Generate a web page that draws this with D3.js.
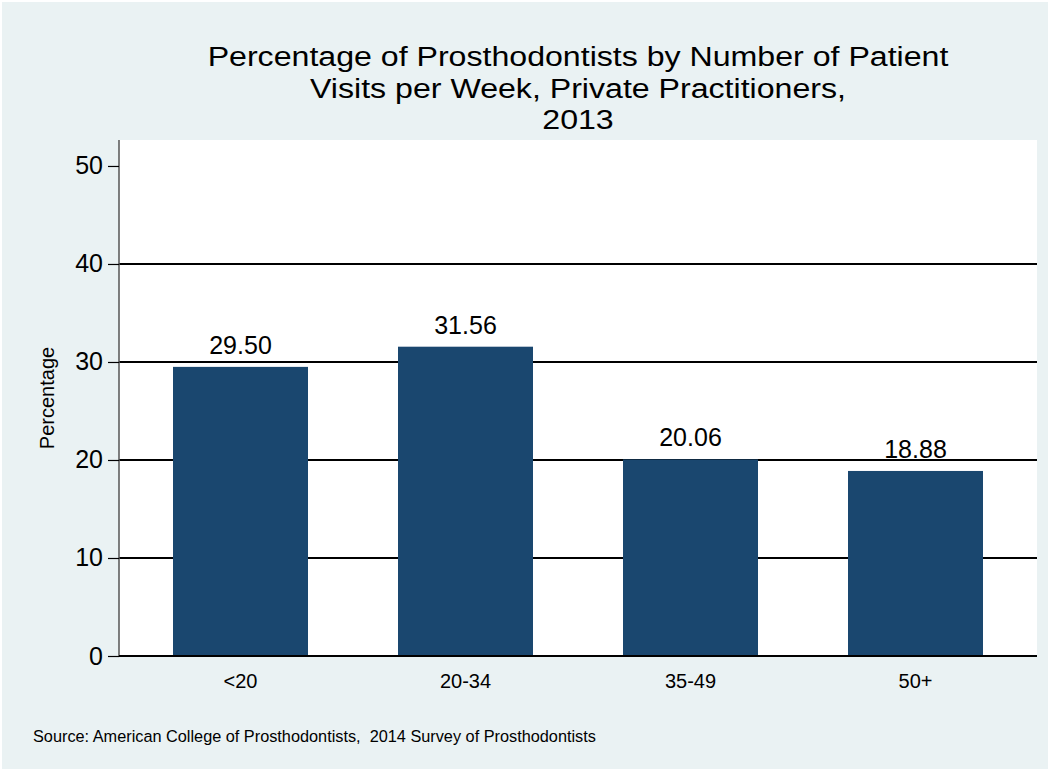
<!DOCTYPE html>
<html>
<head>
<meta charset="utf-8">
<script src="https://cdn.jsdelivr.net/npm/d3@7"></script>
<style>
  body { margin: 0; background: #fff; }
  text { font-family: "Liberation Sans", Arial, sans-serif; fill: #000; }
</style>
</head>
<body>
<script>
let width = 1050, height = 769

let categories = ['<20', '20-34', '35-49', '50+']
let values = [29.50, 31.56, 20.06, 18.88]
let yTicks = [0, 10, 20, 30, 40, 50]
let gridTicks = [10, 20, 30, 40]
let titleLines = ['Percentage of Prosthodontists by Number of Patient', 'Visits per Week, Private Practitioners,', '2013']

let plot = {left: 119, right: 1037, top: 140, bottom: 656}

let svg = d3.select('body').append('svg')
    .attr('width', width)
    .attr('height', height)

// outer background
svg.append('rect')
    .attr('x', 2).attr('y', 2)
    .attr('width', width - 4).attr('height', height - 2)
    .attr('fill', '#eaf2f3')

svg.append('rect')
    .attr('x', plot.left).attr('y', plot.top)
    .attr('width', plot.right - plot.left).attr('height', plot.bottom - plot.top)
    .attr('fill', '#fff')

let x = d3.scaleBand()
    .domain(categories)
    .range([plot.left, plot.right])
    .paddingInner(0.4)
    .paddingOuter(0.24)

let y = d3.scaleLinear()
    .domain([0, 52.65])
    .range([plot.bottom, plot.top])

// grid lines
svg.append('g').selectAll('line')
    .data(gridTicks)
    .enter().append('line')
    .attr('x1', plot.left).attr('x2', plot.right)
    .attr('y1', d => y(d)).attr('y2', d => y(d))
    .attr('stroke', '#000')
    .attr('stroke-width', 2)

// bars
svg.append('g').selectAll('rect')
    .data(values)
    .enter().append('rect')
    .attr('x', (d, i) => x(categories[i]))
    .attr('y', d => y(d))
    .attr('width', x.bandwidth())
    .attr('height', d => y(0) - y(d))
    .attr('fill', '#1a476f')

// value labels
svg.append('g').selectAll('text')
    .data(values)
    .enter().append('text')
    .attr('x', (d, i) => x(categories[i]) + x.bandwidth() / 2)
    .attr('y', d => y(d) - 13)
    .attr('text-anchor', 'middle')
    .style('font-size', '25px')
    .text(d => d.toFixed(2))

// y axis
let yAxis = svg.append('g')
    .attr('transform', `translate(${plot.left},0)`)
    .call(d3.axisLeft(y).tickValues(yTicks).tickSize(11).tickPadding(5).tickFormat(d3.format('d')))
yAxis.select('.domain')
    .attr('d', `M0,${plot.top}V${plot.bottom}`)
    .attr('stroke', '#555')
    .attr('stroke-width', 1.5)
yAxis.selectAll('.tick line').attr('stroke', '#000').attr('stroke-width', 1.2)
yAxis.selectAll('.tick text')
    .style('font-size', '25px')
    .style('font-family', '"Liberation Sans", Arial, sans-serif')
    .attr('fill', '#000')

// x axis baseline
svg.append('line')
    .attr('x1', plot.left).attr('x2', plot.right)
    .attr('y1', plot.bottom).attr('y2', plot.bottom)
    .attr('stroke', '#000').attr('stroke-width', 2)

// x labels
svg.append('g').selectAll('text')
    .data(categories)
    .enter().append('text')
    .attr('x', d => x(d) + x.bandwidth() / 2)
    .attr('y', 688)
    .attr('text-anchor', 'middle')
    .style('font-size', '20px')
    .text(d => d)

// y title
svg.append('text')
    .attr('transform', `translate(54,${(plot.top + plot.bottom) / 2}) rotate(-90)`)
    .attr('text-anchor', 'middle')
    .style('font-size', '20px')
    .text('Percentage')

// title, slightly wide like the original
svg.append('g').selectAll('text')
    .data(titleLines)
    .enter().append('text')
    .attr('transform', (d, i) => `translate(${(plot.left + plot.right) / 2},${66 + i * 31.5}) scale(1.19,1)`)
    .attr('text-anchor', 'middle')
    .style('font-size', '27px')
    .text(d => d)

// source note
svg.append('text')
    .attr('x', 33)
    .attr('y', 742)
    .attr('xml:space', 'preserve')
    .style('white-space', 'pre')
    .style('font-size', '16.3px')
    .text('Source: American College of Prosthodontists,  2014 Survey of Prosthodontists')
</script>
</body>
</html>
